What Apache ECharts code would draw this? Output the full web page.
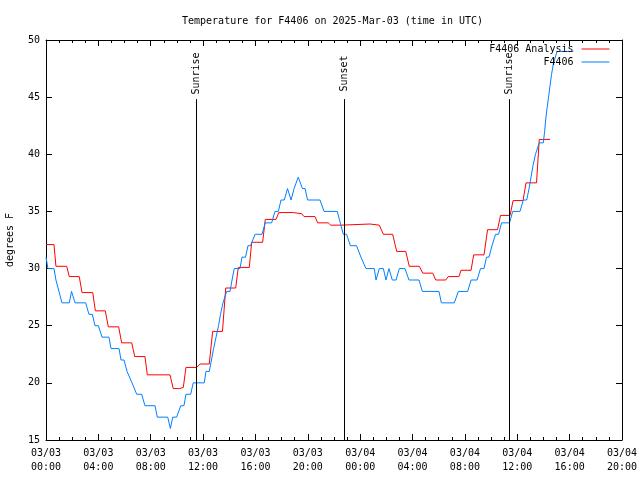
<!DOCTYPE html>
<html><head><meta charset="utf-8">
<script src="https://cdn.jsdelivr.net/npm/echarts@6/dist/echarts.min.js"></script>
<style>html,body{margin:0;padding:0;background:#fff}#c{width:640px;height:480px}</style>
</head><body><div id="c"></div>
<script>
// ---- data (time in hours since 2025-03-03 00:00 UTC) ----
const titleText = 'Temperature for F4406 on 2025-Mar-03 (time in UTC)';
const seriesNames = ['F4406 Analysis', 'F4406'];
const dayLabels = ['03/03', '03/04'];

const analysisHours = [0,0.61,0.76,1.58,1.78,2.54,2.75,3.57,3.77,4.53,4.76,5.55,5.78,6.55,6.78,7.56,7.74,9.47,9.72,10.2,10.2,10.49,10.69,11.51,11.76,12.47,12.73,13.48,13.73,14.49,14.69,15.53,15.71,16.55,16.75,17.57,17.78,18.89,18.89,19.53,19.71,20.55,20.75,21.56,21.75,22.57,22.65,24.75,24.79,25.46,25.77,26.48,26.79,27.48,27.75,28.52,28.78,29.54,29.77,30.53,30.73,31.55,31.7,32.47,32.67,33.46,33.73,34.49,34.72,35.45,35.68,36.44,36.67,37.47,37.68,38.5];
const analysisTemps = [32.1,32.1,30.2,30.2,29.3,29.3,27.9,27.9,26.3,26.3,24.9,24.9,23.5,23.5,22.3,22.3,20.7,20.7,19.5,19.5,19.6,19.6,21.35,21.35,21.65,21.65,24.5,24.5,28.3,28.3,30.1,30.1,32.3,32.3,34.3,34.3,34.9,34.9,34.8,34.8,34.55,34.55,34.0,34.0,33.8,33.8,33.9,33.9,33.8,33.8,33.0,33.0,31.5,31.5,30.2,30.2,29.6,29.6,29.0,29.0,29.3,29.3,29.85,29.85,31.2,31.2,33.4,33.4,34.65,34.65,35.95,35.95,37.5,37.5,41.3,41.3];

const obsHours = [0,0.08,0.15,0.61,0.76,0.99,1.22,1.78,1.95,2.04,2.22,3.03,3.28,3.54,3.74,4.0,4.28,4.81,4.97,5.58,5.73,5.96,6.19,6.34,6.57,6.72,6.93,7.31,7.56,8.33,8.5,9.3,9.5,9.68,9.98,10.29,10.54,10.69,11.05,11.25,12.09,12.22,12.47,12.64,12.8,12.99,13.18,13.33,13.52,13.8,14.06,14.21,14.38,14.82,14.97,15.24,15.43,15.62,15.97,16.5,16.75,17.24,17.49,17.75,17.95,18.2,18.45,18.56,18.72,18.95,19.27,19.59,19.79,19.98,20.93,21.24,22.25,22.48,22.71,22.96,23.25,23.72,24.06,24.44,25.08,25.21,25.46,25.77,25.97,26.2,26.45,26.74,26.99,27.42,27.73,28.49,28.75,30.02,30.2,31.19,31.5,32.21,32.47,32.93,33.19,33.46,33.65,33.84,34.07,34.15,34.34,34.57,34.8,35.41,35.65,36.21,36.46,36.72,36.9,37.05,37.2,37.39,37.68,37.99,38.09,38.17,38.27,38.39,38.5,38.62,38.77,39.04,40.28];
const obsTemps = [31,31,30,30,29,28,27,27,28,28,27,27,26,26,25,25,24,24,23,23,22,22,21,21,20,20,19,19,18,18,17,17,16,17,17,18,18,19,19,20,20,21,21,22,23,24,25,26,27,28,28,29,30,30,31,31,32,32,33,33,34,34,35,35,36,36,37,37,36,37,38,37,37,36,36,35,35,34,33,33,32,32,31,30,30,29,30,30,29,30,29,29,30,30,29,29,28,28,27,27,28,28,29,29,30,30,31,31,32,32,33,33,34,34,35,35,36,36,37,38,39,40,41,41,42,43,44,45,46,47,48,49,49];

const eventNames = ['Sunrise', 'Sunset', 'Sunrise'];
const eventHours = [11.48, 22.79, 35.39];

const yMin = 15, yMax = 50, yStep = 5;
const xMin = 0, xMax = 44, xStep = 4;
// ------------------------------------------------------------

const FONT = 'DejaVu Sans Mono';
const zip = (a, b) => a.map((v, i) => [v, b[i]]);
const pad = n => (n < 10 ? '0' : '') + n;

const eventLines = eventHours.map(h => [{ coord: [h, yMin] }, { coord: [h, 44.83] }]);
const eventLabels = eventHours.map(h => [{ coord: [h, 44.83] }, { coord: [h, 49.3] }]);

const chart = echarts.init(document.getElementById('c'), null, { renderer: 'canvas' });
const axisCommon = {
  axisLine: { show: true, onZero: false, lineStyle: { color: '#000', width: 1 } },
  splitLine: { show: false },
};
const legendCommon = {
  right: 30.5, align: 'right', itemWidth: 28, itemHeight: 1, icon: 'rect', padding: 0,
  textStyle: { fontFamily: FONT, fontSize: 10, color: '#000', padding: [0, 3, 0, 0] }, selectedMode: false
};
chart.setOption({
  animation: false,
  backgroundColor: '#fff',
  title: {
    text: titleText, left: 177, top: 11,
    textStyle: { fontFamily: FONT, fontSize: 10, fontWeight: 'normal', color: '#000' }
  },
  legend: [
    Object.assign({ data: [seriesNames[0]], top: 44 }, legendCommon),
    Object.assign({ data: [seriesNames[1]], top: 57 }, legendCommon)
  ],
  grid: { left: 46, right: 18, top: 40, bottom: 40, outerBoundsMode: 'none', containLabel: false },
  xAxis: [
    Object.assign({}, axisCommon, {
      type: 'value', min: xMin, max: xMax, interval: xStep, position: 'bottom',
      axisTick: { show: true, inside: true, length: 6, lineStyle: { color: '#000' } },
      minorTick: { show: true, splitNumber: 4, length: 3, lineStyle: { color: '#000' } },
      axisLabel: {
        fontFamily: FONT, fontSize: 10, color: '#000', margin: 6, lineHeight: 14,
        formatter: v => dayLabels[Math.floor(v / 24)] + '\n' + pad(v % 24) + ':00'
      }
    }),
    Object.assign({}, axisCommon, {
      type: 'value', min: xMin, max: xMax, interval: xStep, position: 'top',
      axisTick: { show: true, inside: true, length: 6, lineStyle: { color: '#000' } },
      minorTick: { show: true, splitNumber: 4, length: 3, lineStyle: { color: '#000' } },
      axisLabel: { show: false }
    })
  ],
  yAxis: [
    Object.assign({}, axisCommon, {
      type: 'value', min: yMin, max: yMax, interval: yStep, position: 'left',
      name: 'degrees F', nameLocation: 'middle', nameGap: 31, nameRotate: 90,
      nameTextStyle: { fontFamily: FONT, fontSize: 10, color: '#000' },
      axisTick: { show: true, inside: true, length: 6, lineStyle: { color: '#000' } },
      axisLabel: { fontFamily: FONT, fontSize: 10, color: '#000', margin: 6 }
    }),
    Object.assign({}, axisCommon, {
      type: 'value', min: yMin, max: yMax, interval: yStep, position: 'right',
      axisTick: { show: true, inside: true, length: 6, lineStyle: { color: '#000' } },
      axisLabel: { show: false }
    })
  ],
  series: [
    {
      name: seriesNames[0], type: 'line', data: zip(analysisHours, analysisTemps),
      showSymbol: false, symbol: 'none', color: '#ff0000',
      lineStyle: { color: '#ff0000', width: 1 }, silent: true, z: 2,
      markLine: {
        silent: true, symbol: 'none', animation: false,
        lineStyle: { color: '#000', width: 1, type: 'solid' },
        label: { show: false },
        data: eventLines
      }
    },
    {
      name: seriesNames[1], type: 'line', data: zip(obsHours, obsTemps),
      showSymbol: false, symbol: 'none', color: '#0080ff',
      lineStyle: { color: '#0080ff', width: 1 }, silent: true, z: 3,
      markLine: {
        silent: true, symbol: 'none', animation: false,
        lineStyle: { color: 'rgba(0,0,0,0)', width: 1, type: 'solid' },
        label: { show: true, position: 'insideMiddle', distance: 0,
          fontFamily: FONT, fontSize: 10, color: '#000',
          formatter: p => eventNames[p.dataIndex] },
        data: eventLabels
      }
    }
  ]
});
</script>
</body></html>
